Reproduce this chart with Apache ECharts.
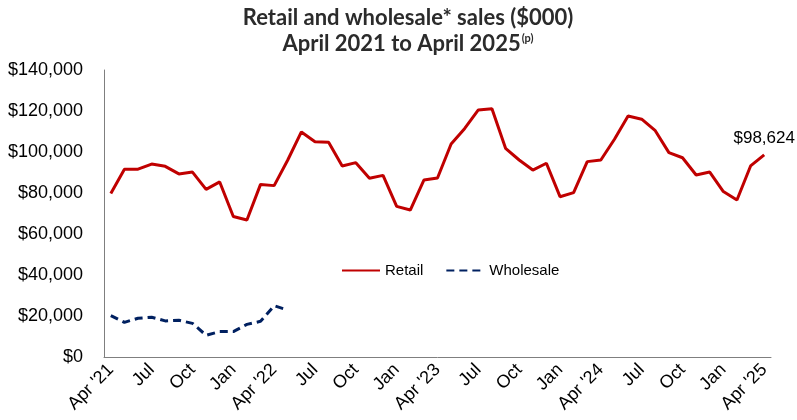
<!DOCTYPE html>
<html>
<head>
<meta charset="utf-8">
<script src="https://cdn.jsdelivr.net/npm/echarts@6/dist/echarts.min.js"></script>
<style>html,body{margin:0;padding:0;background:#fff}#c{width:797px;height:420px}</style>
</head>
<body>
<div id="c"></div>
<script>
const months = [
  "Apr '21","May","Jun","Jul","Aug","Sep","Oct","Nov","Dec","Jan","Feb","Mar",
  "Apr '22","May","Jun","Jul","Aug","Sep","Oct","Nov","Dec","Jan","Feb","Mar",
  "Apr '23","May","Jun","Jul","Aug","Sep","Oct","Nov","Dec","Jan","Feb","Mar",
  "Apr '24","May","Jun","Jul","Aug","Sep","Oct","Nov","Dec","Jan","Feb","Mar",
  "Apr '25"
];
const retail = [
  79800, 91600, 91600, 94100, 93000, 89300, 90200, 81800, 85400, 68500, 66800, 84200,
  83600, 96100, 109800, 105000, 104800, 93200, 94800, 87200, 88600, 73500, 71700, 86300,
  87300, 103900, 111500, 120500, 121100, 101800, 96100, 91200, 94500, 78200, 80200, 95300,
  96100, 106200, 117600, 116000, 110400, 99700, 97200, 88800, 90200, 80700, 76600, 93200,
  98624
];
const wholesale = [
  20200, 16900, 18900, 19400, 17600, 17900, 16400, 10600, 12400, 12400, 15900, 17400,
  25000, 22900
];
const yTicks = { min: 0, max: 140000, interval: 20000 };

const chart = echarts.init(document.getElementById('c'), null, { renderer: 'canvas' });
const fmt = v => '$' + v.toLocaleString('en-US');
const lastIdx = retail.length - 1;
const AR = 'Arial';

chart.setOption({
  animation: false,
  backgroundColor: '#ffffff',
  title: {
    text: '{t|Retail and wholesale* sales ($000)}\n{t|April 2021 to April 2025}{sup|(p)}',
    left: 403,
    top: 0,
    textAlign: 'center',
    padding: 5,
    textStyle: {
      rich: {
        t: { fontFamily: 'Lato', fontWeight: 'bold', fontSize: 22, color: '#2b2b2b', lineHeight: 26 },
        sup: { fontFamily: 'Lato', fontWeight: 'bold', fontSize: 11, color: '#2b2b2b', lineHeight: 26, verticalAlign: 'top', padding: [2, 0, 0, 1] }
      }
    }
  },
  legend: {
    left: 336,
    top: 258,
    itemWidth: 38,
    itemHeight: 14,
    itemGap: 22,
    itemStyle: { opacity: 0 },
    textStyle: { fontFamily: AR, fontSize: 15, color: '#000' },
    data: ['Retail', 'Wholesale']
  },
  grid: { left: 104, right: 26, top: 70, bottom: 63, containLabel: false },
  xAxis: {
    type: 'category',
    data: months,
    boundaryGap: true,
    axisLine: { lineStyle: { color: '#7f7f7f', width: 1 } },
    axisTick: { show: false },
    axisLabel: {
      interval: 2,
      rotate: 45,
      margin: 10,
      fontFamily: AR,
      fontSize: 18,
      color: '#000'
    },
    splitLine: { show: false }
  },
  yAxis: {
    type: 'value',
    min: yTicks.min,
    max: yTicks.max,
    interval: yTicks.interval,
    axisLine: { show: true, lineStyle: { color: '#7f7f7f', width: 1 } },
    axisTick: { show: false },
    splitLine: { show: false },
    axisLabel: {
      margin: 21,
      fontFamily: AR,
      fontSize: 18,
      color: '#000',
      formatter: fmt
    }
  },
  series: [
    {
      name: 'Retail',
      type: 'line',
      data: retail.map((v, i) => i === lastIdx ? {
        value: v,
        label: {
          show: true, position: 'top', distance: 8,
          formatter: p => fmt(p.value),
          fontFamily: AR, fontSize: 17, color: '#000'
        }
      } : v),
      symbol: 'circle',
      symbolSize: 0,
      showSymbol: true,
      showAllSymbol: true,
      lineStyle: { color: '#c00000', width: 3 },
      itemStyle: { color: '#c00000' }
    },
    {
      name: 'Wholesale',
      type: 'line',
      data: wholesale,
      symbol: 'none',
      lineStyle: { color: '#002060', width: 3, type: [8, 5] },
      itemStyle: { color: '#002060' }
    }
  ]
});
</script>
</body>
</html>
